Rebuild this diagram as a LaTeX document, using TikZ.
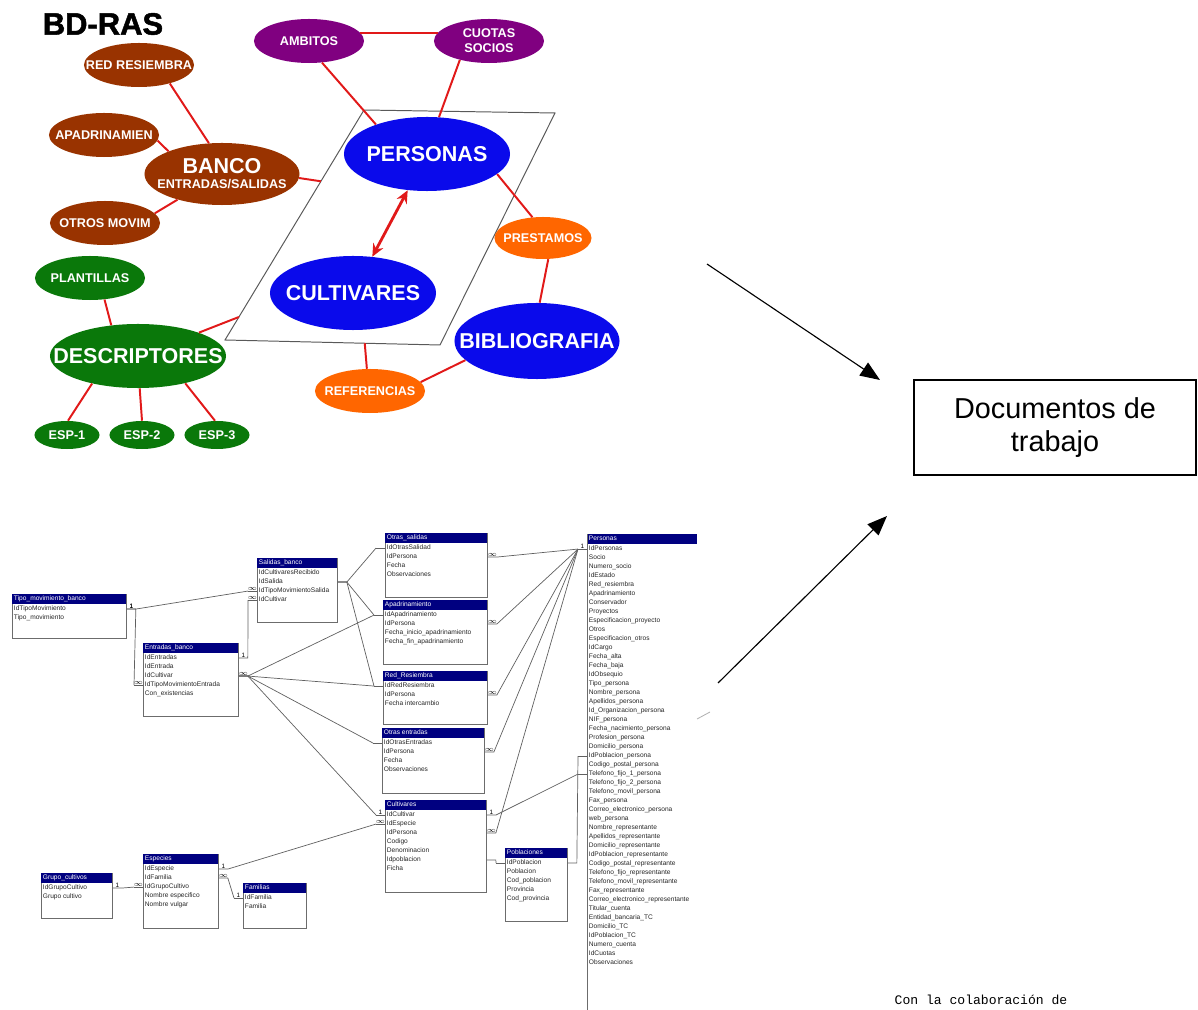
\documentclass[tikz,border=0pt]{standalone}
\usepackage{fontspec}
\setmainfont{Liberation Sans}
\newfontfamily\monofuente{Liberation Mono}
\newfontfamily\gruesa[FakeBold=1.6]{Liberation Sans Bold}
\usetikzlibrary{shapes.geometric,arrows.meta,calc}

\definecolor{marron}{RGB}{153,51,0}
\definecolor{morado}{RGB}{128,0,128}
\definecolor{azulbd}{RGB}{10,10,235}
\definecolor{naranja}{RGB}{255,102,0}
\definecolor{verde}{RGB}{10,120,10}
\definecolor{rojo}{RGB}{225,25,25}
\definecolor{marino}{RGB}{0,0,128}

\tikzset{
  titulo/.style={inner sep=0pt, font=\gruesa\fontsize{22}{24}\selectfont},
  concepto/.style={ellipse, inner sep=-1.5cm, text=white, align=center,
    font=\bfseries\fontsize{9}{10.5}\selectfont},
  grande/.style={font=\bfseries\fontsize{15.3}{17}\selectfont},
  chico/.style={minimum width=2.75cm, minimum height=1.1cm},
  enlace/.style={draw=rojo, line width=1.4pt},
  doble/.style={draw=rojo, line width=2pt,
    {Stealth[length=9pt,width=8pt]}-{Stealth[length=9pt,width=8pt]}},
  marco/.style={draw=gray!70!black, line width=0.7pt},
  flecha/.style={draw=black, line width=0.8pt, -{Triangle[length=14pt,width=11pt]}},
  caja/.style={draw=black, line width=0.8pt, minimum width=7.05cm, minimum height=2.375cm,
    align=center, font=\fontsize{20.5}{23}\selectfont},
  tabcaja/.style={draw=gray!85!black, line width=0.6pt, inner sep=0pt},
  tabvacia/.style={inner sep=0pt},
  tabborde/.style={draw=gray!85!black, line width=0.6pt},
  tabcab/.style={fill=marino, inner sep=0pt, minimum height=0.25cm},
  tabtexto/.style={inner sep=0pt, inner xsep=1.2pt, text=black!85,
    text height=3.4pt, text depth=1pt, font=\fontsize{4.7}{5}\selectfont},
  rel/.style={draw=gray!75!black, line width=0.5pt},
  marca/.style={above, inner sep=0.3pt, font=\fontsize{4.5}{5}\selectfont},
}

% tabla: [estilo]{nombre}{x,y}{ancho}{alto}{titulo}{campos}
\newcommand{\tabla}[7][tabcaja]{%
  \node[#1, minimum width=#4*0.025cm, minimum height=#5*0.025cm, anchor=north west] (#2) at (#3) {};
  \node[tabcab, minimum width=#4*0.025cm, anchor=north west] (#2-0) at (#3) {};
  \node[tabtexto, text=white, anchor=west] (#2-t) at (#2-0.west) {#6};
  \foreach \campo [count=\i] in {#7}
    \node[tabtexto, anchor=west] (#2-\i) at ($(#2-0.south west)+(0,{(\i-0.5)*9})$) {\campo};
}
% relacion entre campos con marcas
\newcommand{\relacion}[4]{%
  \draw[rel] (#2) -- node[marca]{#4} ++(-9,0) coordinate (rel-b);
  \draw[rel] (#1) -- node[marca]{#3} ++(9,0) -- (rel-b);
}
\newcommand{\unir}[2]{%
  \draw[rel] (#2) -- ++(-9,0) coordinate (rel-b);
  \draw[rel] (#1) -- ++(9,0) -- (rel-b);
}

\begin{document}
\begin{tikzpicture}[x=0.025cm, y=-0.025cm]
\useasboundingbox (0,0) rectangle (1198,1010);

% mapa conceptual
\node[titulo] (titulo) at (103,24) {BD-RAS};

\coordinate (pa) at (364,110);
\coordinate (pb) at (555,113);
\coordinate (pc) at (440,345);
\coordinate (pd) at (225,340);
\draw[marco] (pa) -- (pb) -- (pc) -- (pd) -- cycle;
\coordinate (bordeBanco) at ($(pa)!0.31!(pd)$);
\coordinate (bordeDescr) at ($(pa)!0.9!(pd)$);
\coordinate (bordeRef) at ($(pd)!0.65!(pc)$);

\node[concepto, chico, fill=marron] (redres) at (139,65) {RED RESIEMBRA};
\node[concepto, chico, fill=marron] (apadr) at (104,135) {APADRINAMIEN};
\node[concepto, fill=marron, minimum width=3.875cm, minimum height=1.55cm] (banco) at (222,174)
  {{\fontsize{15.3}{17}\selectfont BANCO}\\ENTRADAS/SALIDAS};
\node[concepto, chico, fill=marron] (otros) at (105,223) {OTROS MOVIM};
\node[concepto, chico, fill=morado] (ambitos) at (309,41) {AMBITOS};
\node[concepto, chico, fill=morado] (cuotas) at (489,41) {CUOTAS\\SOCIOS};
\node[concepto, grande, fill=azulbd, minimum width=4.15cm, minimum height=1.85cm] (personas) at (427,154) {PERSONAS};
\node[concepto, grande, fill=azulbd, minimum width=4.15cm, minimum height=1.85cm] (cultivares) at (353,293) {CULTIVARES};
\node[concepto, fill=naranja, minimum width=2.425cm, minimum height=1.05cm] (prestamos) at (543,238) {PRESTAMOS};
\node[concepto, grande, fill=azulbd, minimum width=4.125cm, minimum height=1.9cm] (biblio) at (537,341) {BIBLIOGRAFIA};
\node[concepto, chico, fill=naranja] (refer) at (370,391) {REFERENCIAS};
\node[concepto, chico, fill=verde] (plant) at (90,278) {PLANTILLAS};
\node[concepto, grande, fill=verde, minimum width=4.4cm, minimum height=1.6cm] (descr) at (138,356) {DESCRIPTORES};
\node[concepto, fill=verde, minimum width=1.625cm, minimum height=0.7cm] (esp1) at (67,435) {ESP-1};
\node[concepto, fill=verde, minimum width=1.625cm, minimum height=0.7cm] (esp2) at (142,435) {ESP-2};
\node[concepto, fill=verde, minimum width=1.625cm, minimum height=0.7cm] (esp3) at (217,435) {ESP-3};

\draw[enlace] (redres.-31) -- (banco.113);
\draw[enlace] (apadr.-6) -- (banco.157);
\draw[enlace] (otros.11) -- (banco.-150);
\draw[enlace] (banco.-3) -- (bordeBanco);
\draw[enlace] (ambitos.-59) -- (personas.150);
\draw[enlace] (ambitos.9) -- (cuotas.171);
\draw[enlace] (cuotas.-147) -- (personas.72);
\draw[enlace] (personas.-16) -- (prestamos.117);
\draw[enlace] (prestamos.-76) -- (biblio.86);
\draw[enlace] (biblio.-165) -- (refer.10);
\draw[enlace] (refer.98) -- (bordeRef);
\draw[enlace] (descr.21) -- (bordeDescr);
\draw[enlace] (plant.-56) -- (descr.131);
\draw[enlace] (descr.-149) -- (esp1.86);
\draw[enlace] (descr.-87) -- (esp2.90);
\draw[enlace] (descr.-30) -- (esp3.98);
\draw[doble] (personas) -- (cultivares);

% documentos de trabajo
\node[caja] (docs) at (1055,427.5) {Documentos de\\trabajo};
\coordinate (iniA) at (707,264);
\coordinate (finA) at (880,380);
\coordinate (iniB) at (718,683);
\coordinate (finB) at (887,516);
\draw[flecha] (iniA) -- (finA);
\draw[flecha] (iniB) -- (finB);
\draw[draw=gray!60, line width=0.6pt] (697,719) -- (710,712);
\node[font=\monofuente\fontsize{9.3}{10}\selectfont] (colab) at (981,1000) {Con la colaboración de};

% tablas
\tabla{tipo}{12,594}{114}{44}{Tipo\_movimiento\_banco}{IdTipoMovimiento, Tipo\_movimiento}
\tabla{entb}{143,643}{95}{73}{Entradas\_banco}{IdEntradas, IdEntrada, IdCultivar,
  IdTipoMovimientoEntrada, Con\_existencias}
\tabla{salb}{257,558}{80}{64}{Salidas\_banco}{IdCultivaresRecibido, IdSalida,
  IdTipoMovimientoSalida, IdCultivar}
\tabla{otsal}{385,533}{102}{64}{Otras\_salidas}{IdOtrasSalidad, IdPersona, Fecha, Observaciones}
\tabla{apad}{383,600}{104}{64}{Apadrinamiento}{IdApadrinamiento, IdPersona,
  Fecha\_inicio\_apadrinamiento, Fecha\_fin\_apadrinamiento}
\tabla{red}{383,671}{104}{53}{Red\_Resiembra}{IdRedResiembra, IdPersona, Fecha intercambio}
\tabla{otent}{382,728}{102}{65}{Otras entradas}{IdOtrasEntradas, IdPersona, Fecha, Observaciones}
\tabla{cult}{385,800}{101}{92}{Cultivares}{IdCultivar, IdEspecie, IdPersona, Codigo,
  Denominacion, Idpoblacion, Ficha}
\tabla{pobl}{505,848}{62}{73}{Poblaciones}{IdPoblacion, Poblacion, Cod\_poblacion,
  Provincia, Cod\_provincia}
\tabla{grupo}{41,873}{71}{45}{Grupo\_cultivos}{IdGrupoCultivo, Grupo cultivo}
\tabla{esp}{143,854}{75}{74}{Especies}{IdEspecie, IdFamilia, IdGrupoCultivo,
  Nombre especifico, Nombre vulgar}
\tabla{fam}{243,883}{63}{45}{Familias}{IdFamilia, Familia}
\tabla[tabvacia]{pers}{587,534}{110}{476}{Personas}{IdPersonas, Socio, Numero\_socio,
  IdEstado, Red\_resiembra, Apadrinamiento, Conservador, Proyectos,
  Especificacion\_proyecto, Otros, Especificacion\_otros, IdCargo, Fecha\_alta,
  Fecha\_baja, IdObsequio, Tipo\_persona, Nombre\_persona, Apellidos\_persona,
  Id\_Organizacion\_persona, NIF\_persona, Fecha\_nacimiento\_persona,
  Profesion\_persona, Domicilio\_persona, IdPoblacion\_persona,
  Codigo\_postal\_persona, Telefono\_fijo\_1\_persona, Telefono\_fijo\_2\_persona,
  Telefono\_movil\_persona, Fax\_persona, Correo\_electronico\_persona, web\_persona,
  Nombre\_representante, Apellidos\_representante, Domicilio\_representante,
  IdPoblacion\_representante, Codigo\_postal\_representante,
  Telefono\_fijo\_representante, Telefono\_movil\_representante, Fax\_representante,
  Correo\_electronico\_representante, Titular\_cuenta, Entidad\_bancaria\_TC,
  Domicilio\_TC, IdPoblacion\_TC, Numero\_cuenta, IdCuotas, Observaciones}
\draw[tabborde] (pers.north west) -- (pers.south west);

% relaciones
\relacion{tipo.east |- tipo-1}{salb.west |- salb-3}{1}{$\infty$}
\relacion{tipo.east |- tipo-1}{entb.west |- entb-4}{1}{$\infty$}
\relacion{entb.east |- entb-1}{salb.west |- salb-4}{1}{$\infty$}
\unir{salb.east |- salb-2}{otsal.west |- otsal-1}
\unir{salb.east |- salb-2}{apad.west |- apad-1}
\unir{salb.east |- salb-2}{red.west |- red-1}
\relacion{entb.east |- entb-3}{cult.west |- cult-1}{$\infty$}{1}
\unir{entb.east |- entb-3}{apad.west |- apad-1}
\unir{entb.east |- entb-3}{red.west |- red-1}
\unir{entb.east |- entb-3}{otent.west |- otent-1}
\relacion{esp.east |- esp-1}{cult.west |- cult-2}{1}{$\infty$}
\relacion{esp.east |- esp-2}{fam.west |- fam-1}{$\infty$}{1}
\relacion{grupo.east |- grupo-1}{esp.west |- esp-3}{1}{$\infty$}
\relacion{otsal.east |- otsal-2}{pers.west |- pers-1}{$\infty$}{1}
\relacion{apad.east |- apad-2}{pers.west |- pers-1}{$\infty$}{}
\relacion{red.east |- red-2}{pers.west |- pers-1}{$\infty$}{}
\relacion{otent.east |- otent-2}{pers.west |- pers-1}{$\infty$}{}
\relacion{cult.east |- cult-3}{pers.west |- pers-1}{$\infty$}{}
\relacion{cult.east |- cult-1}{pers.west |- pers-26}{1}{}
\unir{cult.east |- cult-6}{pobl.west |- pobl-1}
\unir{pobl.east |- pobl-1}{pers.west |- pers-24}
\end{tikzpicture}
\end{document}
